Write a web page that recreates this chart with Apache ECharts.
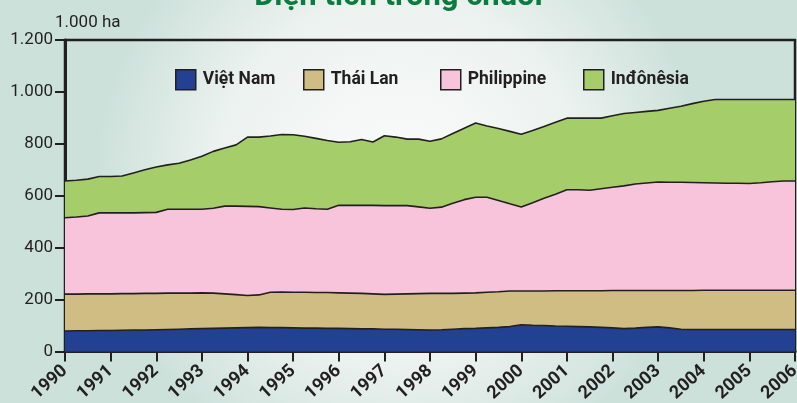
<!DOCTYPE html>
<html>
<head>
<meta charset="utf-8">
<script src="https://cdn.jsdelivr.net/npm/echarts@6/dist/echarts.min.js"></script>
<style>
  html, body { margin: 0; padding: 0; }
  #chart { width: 797px; height: 403px; }
</style>
</head>
<body>
<div id="chart"></div>
<script>
// nhãn năm trên trục hoành, dữ liệu đọc theo từng quý
const years = ['1990', '1991', '1992', '1993', '1994', '1995', '1996', '1997', '1998',
  '1999', '2000', '2001', '2002', '2003', '2004', '2005', '2006']
const yTicks = [0, 200, 400, 600, 800, 1000, 1200]
const countries = ['Việt Nam', 'Thái Lan', 'Philippine', 'Inđônêsia']

// diện tích (nghìn ha), mỗi năm 4 điểm
const vietNam = [79, 80, 80, 81, 81, 82, 83, 83, 84, 85, 86, 87, 88, 89, 90, 91,
  92, 93, 92, 92, 91, 90, 90, 89, 89, 88, 87, 87, 86, 86, 85, 84,
  83, 84, 86, 88, 89, 91, 93, 96, 103, 101, 100, 98, 97, 96, 95, 93,
  91, 88, 90, 93, 95, 91, 86, 85, 85, 85, 85, 85, 85, 85, 85, 85, 85]
const thaiLan = [142, 141, 142, 141, 141, 141, 140, 141, 140, 140, 139, 138, 138, 136, 132, 128,
  124, 125, 136, 137, 137, 138, 137, 138, 137, 137, 137, 135, 134, 135, 137, 139,
  141, 140, 138, 137, 137, 137, 137, 137, 130, 132, 133, 136, 137, 138, 139, 141,
  144, 147, 145, 142, 140, 144, 149, 150, 151, 151, 151, 151, 151, 151, 151, 151, 151]
const philippine = [294, 297, 300, 312, 312, 311, 311, 311, 312, 323, 323, 323, 322, 327, 338, 341,
  343, 340, 325, 319, 319, 325, 323, 321, 337, 338, 339, 341, 342, 341, 340, 334,
  328, 332, 347, 360, 368, 366, 352, 336, 324, 340, 357, 372, 389, 389, 387, 393,
  398, 403, 410, 414, 418, 417, 417, 416, 414, 413, 412, 412, 411, 414, 418, 421, 421]
const indonesia = [142, 142, 142, 140, 140, 142, 154, 165, 175, 171, 177, 190, 204, 219, 224, 236,
  267, 268, 277, 288, 288, 276, 271, 265, 243, 245, 254, 244, 269, 264, 256, 261,
  258, 263, 269, 275, 286, 275, 277, 279, 280, 278, 277, 277, 276, 276, 278, 272,
  275, 279, 276, 276, 276, 285, 293, 304, 314, 322, 323, 323, 324, 321, 317, 314, 314]

const quarters = []
years.forEach((y, i) => {
  if (i < years.length - 1) {
    quarters.push(y, y + '.25', y + '.5', y + '.75')
  } else {
    quarters.push(y)
  }
})

const ink = '#231f20'
const font = 'Roboto, "DejaVu Sans", sans-serif'
const legendLeft = [170, 298, 435, 578]

function mkSeries(name, data, color) {
  return {
    name: name,
    type: 'line',
    stack: 'total',
    data: data,
    symbol: 'none',
    smooth: false,
    itemStyle: { color: color },
    lineStyle: { color: ink, width: 1.6 },
    areaStyle: { color: color, opacity: 1 }
  }
}

function mkLegend(name, left) {
  return {
    top: 64,
    left: left,
    icon: 'rect',
    itemWidth: 20,
    itemHeight: 20,
    itemStyle: { borderColor: ink, borderWidth: 1.5 },
    textStyle: {
      color: ink,
      fontFamily: font,
      fontWeight: 'bold',
      fontSize: 17.5,
      padding: [0, 0, 0, 2]
    },
    data: [name]
  }
}

const myChart = echarts.init(document.getElementById('chart'))
const option = {
  backgroundColor: new echarts.graphic.RadialGradient(0.5, 0.45, 0.75, [
    { offset: 0, color: '#fbfcfc' },
    { offset: 0.6, color: '#ecf2f0' },
    { offset: 1, color: '#cde1db' }
  ]),
  animation: false,
  title: {
    text: 'Diện tích trồng chuối',
    left: 'center',
    top: -23,
    textStyle: {
      color: '#0a7d3e',
      fontFamily: font,
      fontWeight: 'bold',
      fontSize: 31
    }
  },
  legend: countries.map((c, i) => mkLegend(c, legendLeft[i])),
  grid: {
    left: 65,
    right: 2,
    top: 40,
    bottom: 51.5,
    outerBoundsMode: 'none',
    containLabel: false,
    show: true,
    borderColor: ink,
    borderWidth: 2.5
  },
  xAxis: {
    type: 'category',
    boundaryGap: false,
    data: quarters,
    axisLine: { lineStyle: { color: ink, width: 3 } },
    axisTick: {
      length: 10,
      interval: (idx) => idx % 4 === 0,
      lineStyle: { color: ink, width: 2 }
    },
    axisLabel: {
      interval: (idx) => idx % 4 === 0,
      rotate: 42,
      margin: 17,
      color: ink,
      fontFamily: font,
      fontWeight: 'bold',
      fontSize: 18
    }
  },
  yAxis: {
    type: 'value',
    min: yTicks[0],
    max: yTicks[yTicks.length - 1],
    interval: 200,
    name: '1.000 ha',
    nameLocation: 'end',
    nameGap: 9,
    nameTextStyle: {
      color: ink,
      fontFamily: font,
      fontSize: 17,
      align: 'left',
      padding: [0, 0, 0, -10]
    },
    splitLine: { show: false },
    axisLine: { show: true, lineStyle: { color: ink, width: 3 } },
    axisTick: { show: true, length: 10, lineStyle: { color: ink, width: 2 } },
    axisLabel: {
      color: ink,
      fontFamily: font,
      fontSize: 17,
      margin: 12,
      formatter: (v) => String(v).replace(/\B(?=(\d{3})+(?!\d))/g, '.')
    }
  },
  series: [
    mkSeries(countries[0], vietNam, '#234192'),
    mkSeries(countries[1], thaiLan, '#cfbd84'),
    mkSeries(countries[2], philippine, '#f7c4dc'),
    mkSeries(countries[3], indonesia, '#a5cd6a')
  ]
}
myChart.setOption(option)
window.addEventListener('resize', () => myChart.resize(), false)
</script>
</body>
</html>
